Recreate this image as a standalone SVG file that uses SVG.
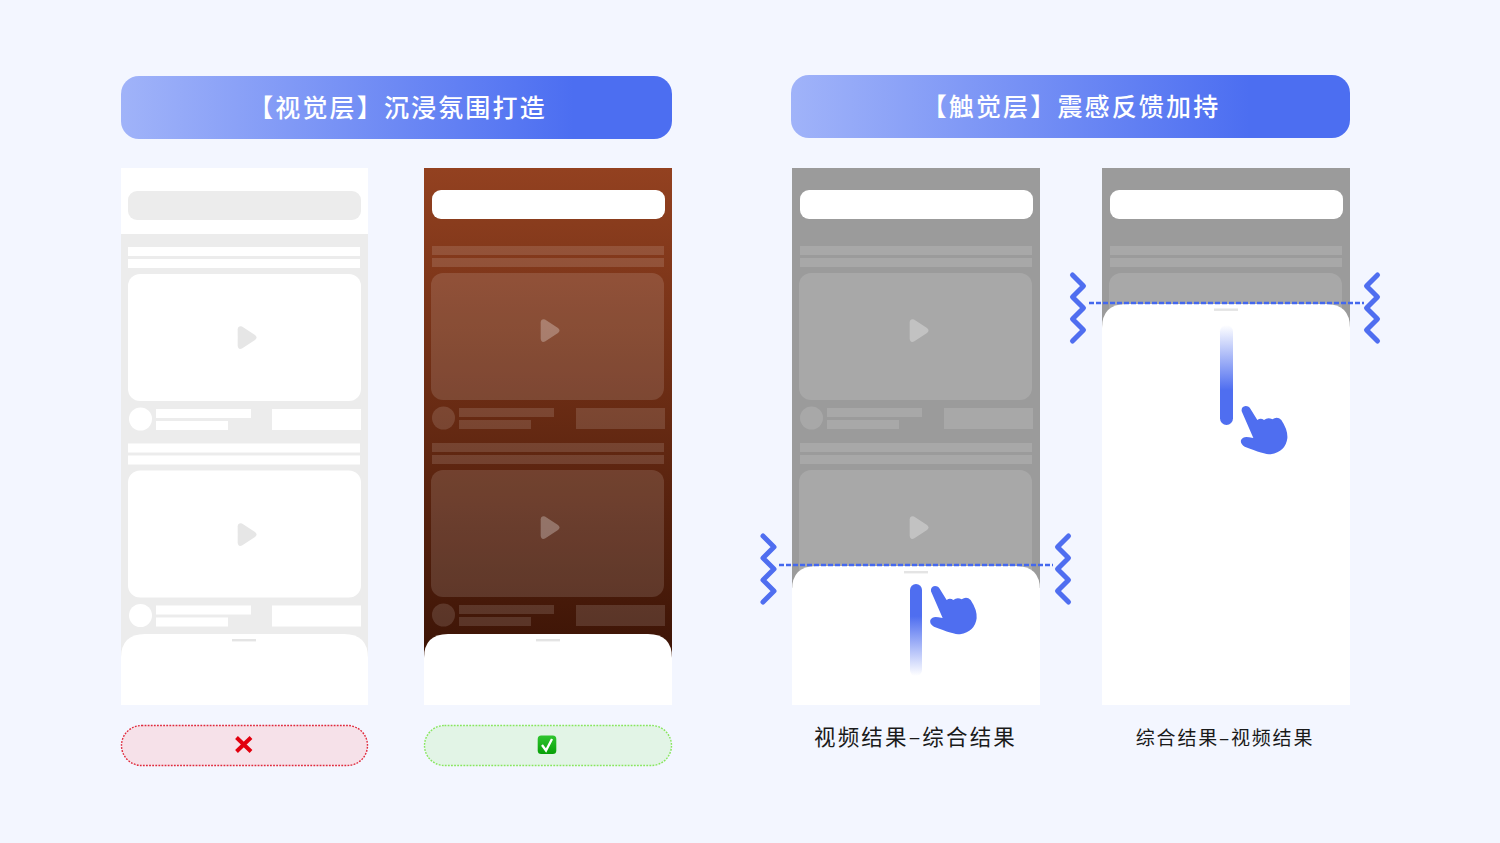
<svg xmlns="http://www.w3.org/2000/svg" width="1500" height="843" viewBox="0 0 1500 843">
<style>
.t{font-family:"Noto Sans CJK SC","Liberation Sans",sans-serif;text-anchor:middle}
.h{fill:#fff;font-size:25px;font-weight:500;letter-spacing:2.15px}
.l{fill:#1a1a1a;font-size:21.500px;letter-spacing:2.150px}
.z{fill:none;stroke:#4f6ef0;stroke-width:5;stroke-linecap:round;stroke-linejoin:round}
.d{fill:none;stroke:#4468ee;stroke-width:2.300;stroke-dasharray:5 2}
.s{fill:#fff}
.hd{fill:#e4e4e4}
.hand{fill:#4f6ef0}
</style>
<defs>
<linearGradient id="hg" x1="0" x2="1" y1="0" y2="0"><stop offset="0" stop-color="#a0b3f9"/><stop offset=".82" stop-color="#4c6ef1"/><stop offset="1" stop-color="#4c6ef1"/></linearGradient>
<linearGradient id="br" x1="0" x2="0" y1="0" y2="1"><stop offset="0" stop-color="#934120"/><stop offset="1" stop-color="#3c1406"/></linearGradient>
<linearGradient id="gc" x1="0" x2="0" y1="0" y2="1"><stop offset="0" stop-color="#2fc52f"/><stop offset="1" stop-color="#08a008"/></linearGradient>
<linearGradient id="b1" x1="0" x2="0" y1="0" y2="1"><stop offset="0" stop-color="#4f6ef0"/><stop offset=".35" stop-color="#4f6ef0"/><stop offset="1" stop-color="#4f6ef0" stop-opacity="0"/></linearGradient>
<linearGradient id="b2" x1="0" x2="0" y1="1" y2="0"><stop offset="0" stop-color="#4f6ef0"/><stop offset=".35" stop-color="#4f6ef0"/><stop offset="1" stop-color="#4f6ef0" stop-opacity="0"/></linearGradient>
<g id="bars">
<rect x="8" y="78" width="232" height="9"/><rect x="8" y="90" width="232" height="9"/>
<rect x="152" y="240" width="89" height="21"/>
</g>
<g id="card">
<rect x="7" y="105" width="233" height="127" rx="12"/>
<circle cx="19.500" cy="250" r="11.500"/>
<rect x="35" y="240" width="95" height="9"/><rect x="35" y="252" width="72" height="9"/>
</g>
<g id="post"><use href="#bars"/><use href="#card"/></g>
<path id="play" d="M116.700 154.500Q117 150.500 121 151.500L134 160Q137 162.500 134 165L121 173.500Q117 175 116.700 170.500Z"/>
<path id="handp" d="M543 214Q541 200 555 198Q565 198 570 208L590 240Q600 232 610 240Q622 230 635 238Q650 228 662 240Q682 270 680 295Q675 335 630 343Q610 343 552 320Q538 312 541 300Q548 288 565 292L578 294Z"/>
<path id="zig" d="M0 0L11 11L0 22L11 33L0 44L11 55L0 66"/>
</defs>
<rect width="1500" height="843" fill="#f3f6ff"/>

<g id="title-visual"><rect x="121" y="76" width="551" height="63" rx="18" fill="url(#hg)"/><text class="t h" x="397.500" y="117">【视觉层】沉浸氛围打造</text></g>
<g id="title-haptic"><rect x="791" y="75" width="559" height="63" rx="18" fill="url(#hg)"/><text class="t h" x="1071" y="116">【触觉层】震感反馈加持</text></g>

<g id="phone-a">
<rect x="121" y="168" width="247" height="537" fill="#ececec"/>
<rect x="121" y="168" width="247" height="66" fill="#fff"/>
<rect x="128" y="191" width="233" height="29" rx="9" fill="#ececec"/>
<g fill="#fff">
<use href="#bars" transform="translate(120,169)"/><use href="#card" transform="translate(121,169)"/>
<use href="#bars" transform="translate(120,365.500)"/><use href="#card" transform="translate(121,365.500)"/>
</g>
<g transform="translate(121,175)" fill="#e6e6e6"><use href="#play"/><use href="#play" y="197"/></g>
<path class="s" d="M121 705V658Q121 634 145 634H344Q368 634 368 658V705Z"/>
<rect class="hd" x="232" y="639" width="24" height="2.400"/>
</g>

<g id="phone-b">
<rect x="424" y="168" width="248" height="490" fill="url(#br)"/>
<rect class="s" x="432" y="190" width="233" height="29" rx="9"/>
<g transform="translate(424,168)" fill="#fff" opacity=".13"><use href="#post"/><use href="#post" y="197"/></g>
<g transform="translate(424,168)" fill="#fff" opacity=".28"><use href="#play"/><use href="#play" y="197"/></g>
<path class="s" d="M424 705V658Q424 634 448 634H648Q672 634 672 658V705Z"/>
<rect class="hd" x="536" y="639" width="24" height="2.400"/>
</g>

<g id="phone-c">
<rect x="792" y="168" width="248" height="420" fill="#9b9b9b"/>
<rect class="s" x="800" y="190" width="233" height="29" rx="9"/>
<g transform="translate(792,168)" fill="#fff" opacity=".13"><use href="#post"/><use href="#post" y="197"/></g>
<g transform="translate(793,168)" fill="#fff" opacity=".3"><use href="#play"/><use href="#play" y="197"/></g>
<path class="s" d="M792 705V590Q792 566 816 566H1016Q1040 566 1040 590V705Z"/>
<rect class="hd" x="904" y="571" width="24" height="2.400"/>
<rect x="910" y="584" width="12" height="92" rx="6" fill="url(#b1)"/>
<use class="hand" href="#handp" transform="translate(750,520) scale(.3333)"/>
<use class="z" href="#zig" x="763" y="536"/>
<use class="z" href="#zig" transform="translate(1068.500,536) scale(-1,1)"/>
<path class="d" d="M779 565H1053"/>
</g>

<g id="phone-d">
<rect x="1102" y="168" width="248" height="160" fill="#9b9b9b"/>
<rect class="s" x="1110" y="190" width="233" height="29" rx="9"/>
<g transform="translate(1102,168)" fill="#fff" opacity=".13"><use href="#post"/></g>
<path class="s" d="M1102 705V328Q1102 304 1126 304H1326Q1350 304 1350 328V705Z"/>
<rect class="hd" x="1214" y="308.500" width="24" height="2.400"/>
<rect x="1220" y="325" width="13" height="100" rx="6.500" fill="url(#b2)"/>
<use class="hand" href="#handp" transform="translate(1060.700,340) scale(.3333)"/>
<use class="z" href="#zig" x="1072.500" y="275"/>
<use class="z" href="#zig" transform="translate(1377.500,275) scale(-1,1)"/>
<path class="d" d="M1089 303H1364"/>
</g>

<g id="badge-bad"><rect x="121.500" y="725.500" width="246" height="40" rx="20" fill="#f6e1e9" stroke="#e02a3c" stroke-width="1.400" stroke-dasharray="1.800 1.300"/><path d="M236.500 737.500L251 751.500M251 737.500L236.500 751.500" fill="none" stroke="#e2000f" stroke-width="4"/></g>
<g id="badge-good"><rect x="424.500" y="725.500" width="247" height="40" rx="20" fill="#e2f4e6" stroke="#88e65e" stroke-width="1.400" stroke-dasharray="1.800 1.300"/><rect x="537.700" y="735.500" width="18.600" height="18.600" rx="3.500" fill="url(#gc)"/><path d="M542 745L546 750.500L552 739" fill="none" stroke="#fff" stroke-width="2.300"/></g>

<text class="t l" x="915.500" y="745">视频结果–综合结果</text>
<text class="t l" x="1225" y="745" style="font-size:19px;letter-spacing:1.800px">综合结果–视频结果</text>
</svg>
